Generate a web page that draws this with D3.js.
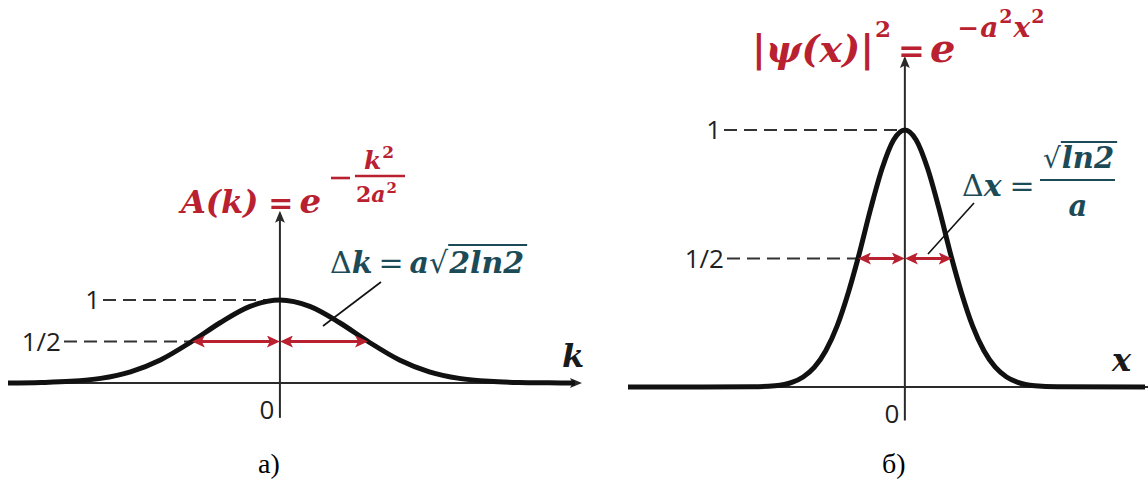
<!DOCTYPE html>
<html>
<head>
<meta charset="utf-8">
<script src="https://cdn.jsdelivr.net/npm/d3@7"></script>
<style>
  body { margin: 0; background: #ffffff; }
  svg { display: block; }
</style>
</head>
<body>
<svg id="chart" width="1148" height="488"></svg>
<script>
// ---- data (a = 1) ----
// spectral amplitude A(k), sampled along k
const kPoints = [-3.64, -3.2, -2.8, -2.4, -2.0, -1.6, -1.18, -0.8, -0.4, 0, 0.4, 0.8, 1.18, 1.6, 2.0, 2.4, 2.8, 3.2, 3.6, 3.95];
const aValues = [0, 0.006, 0.02, 0.056, 0.135, 0.278, 0.5, 0.726, 0.923, 1, 0.923, 0.726, 0.5, 0.278, 0.135, 0.056, 0.02, 0.006, 0.002, 0];
// probability density |psi(x)|^2, sampled along x
const xPoints = [-4.9, -2.7, -2.3, -2.0, -1.8, -1.6, -1.4, -1.2, -1.0, -0.83, -0.6, -0.4, -0.2, 0, 0.2, 0.4, 0.6, 0.83, 1.0, 1.2, 1.4, 1.6, 1.8, 2.0, 2.3, 2.7, 4.25];
const psiValues = [0, 0.001, 0.005, 0.018, 0.039, 0.077, 0.141, 0.237, 0.368, 0.5, 0.698, 0.852, 0.961, 1, 0.961, 0.852, 0.698, 0.5, 0.368, 0.237, 0.141, 0.077, 0.039, 0.018, 0.005, 0.001, 0];
// reference levels on the vertical axes
const levelValues = [1, 0.5];
const levelLabels = ["1", "1/2"];
// half widths at the 1/2 level
const halfWidthK = 1.18;   // a*sqrt(2 ln2)
const halfWidthX = 0.83;   // sqrt(ln2)/a
const panelCaptions = ["а)", "б)"];

const RED = "#ba2130";
const TEAL = "#1c4b57";
const INK = "#111111";
const AXIS = "#2a2a2a";
const MATH = "'DejaVu Serif', 'Liberation Serif', serif";
const SANS = "'Open Sans', 'Liberation Sans', sans-serif";

const svg = d3.select("#chart");
svg.append("rect").attr("width", 1148).attr("height", 488).attr("fill", "#fff");

const defs = svg.append("defs");
defs.append("marker")
  .attr("id", "axisHead").attr("viewBox", "0 0 12 10")
  .attr("refX", 10).attr("refY", 5)
  .attr("markerWidth", 12).attr("markerHeight", 10)
  .attr("markerUnits", "userSpaceOnUse").attr("orient", "auto")
  .append("path").attr("d", "M0,0 L12,5 L0,10 L2.5,5 Z").attr("fill", AXIS);
defs.append("marker")
  .attr("id", "redHead").attr("viewBox", "0 0 13 12")
  .attr("refX", 8).attr("refY", 6)
  .attr("markerWidth", 13).attr("markerHeight", 12)
  .attr("markerUnits", "userSpaceOnUse").attr("orient", "auto-start-reverse")
  .append("path").attr("d", "M0,0 L13,6 L0,12 L3,6 Z").attr("fill", RED);

// ---- one panel: axes, dashed levels, curve, half-width arrows ----
function drawPanel(cfg) {
  const g = svg.append("g");
  const xs = cfg.x, ys = cfg.y;
  const x0 = xs(0), y0 = ys(0);

  // horizontal axis
  g.append("line")
    .attr("x1", cfg.axisLeft).attr("x2", cfg.axisRight)
    .attr("y1", y0).attr("y2", y0)
    .attr("stroke", AXIS).attr("stroke-width", 2)
    .attr("marker-end", cfg.hArrow ? "url(#axisHead)" : null);
  // vertical axis
  g.append("line")
    .attr("x1", x0).attr("x2", x0)
    .attr("y1", ys(cfg.vBottom)).attr("y2", ys(cfg.vTop))
    .attr("stroke", AXIS).attr("stroke-width", 2)
    .attr("marker-end", "url(#axisHead)");

  // dashed guide lines and their labels
  levelValues.forEach((v, i) => {
    const endX = v === 1 ? x0 : xs(-cfg.half);
    g.append("line")
      .attr("x1", cfg.levelStart[i]).attr("x2", endX)
      .attr("y1", ys(v)).attr("y2", ys(v))
      .attr("stroke", "#333").attr("stroke-width", 1.8)
      .attr("stroke-dasharray", "13,7");
    g.append("text")
      .attr("x", cfg.levelStart[i] - 3).attr("y", ys(v))
      .attr("dy", "0.36em").attr("text-anchor", "end")
      .attr("font-family", SANS).attr("font-size", 26).attr("fill", "#1e1e1e")
      .text(levelLabels[i]);
  });

  // origin label
  g.append("text")
    .attr("x", x0 - 13).attr("y", y0 + 36)
    .attr("text-anchor", "middle")
    .attr("font-family", SANS).attr("font-size", 26).attr("fill", "#1e1e1e")
    .text("0");

  // the curve
  const line = d3.line()
    .x(d => xs(d[0])).y(d => ys(d[1]))
    .curve(d3.curveMonotoneX);
  g.append("path")
    .datum(d3.zip(cfg.xVals, cfg.yVals))
    .attr("d", line)
    .attr("fill", "none").attr("stroke", INK)
    .attr("stroke-width", 5).attr("stroke-linejoin", "round");

  // half-width arrows at the 1/2 level
  const yh = ys(0.5);
  [[-cfg.half, 0], [0, cfg.half]].forEach(([a, b]) => {
    g.append("line")
      .attr("x1", xs(a) + 5).attr("x2", xs(b) - 5)
      .attr("y1", yh).attr("y2", yh)
      .attr("stroke", RED).attr("stroke-width", 3)
      .attr("marker-start", "url(#redHead)")
      .attr("marker-end", "url(#redHead)");
  });

  // axis name
  g.append("text")
    .attr("x", cfg.axisNameX).attr("y", y0 - 16)
    .attr("font-family", MATH).attr("font-style", "italic").attr("font-weight", "bold")
    .attr("font-size", 32).attr("fill", "#1a1a1a")
    .text(cfg.axisName);

  // leader from the arrow to the width formula
  g.append("line")
    .attr("x1", cfg.leader[0]).attr("y1", cfg.leader[1])
    .attr("x2", cfg.leader[2]).attr("y2", cfg.leader[3])
    .attr("stroke", "#111").attr("stroke-width", 1.6);

  // caption
  g.append("text")
    .attr("x", x0 - 11).attr("y", 473)
    .attr("text-anchor", "middle")
    .attr("font-family", "'Liberation Serif', 'Times New Roman', serif")
    .attr("font-size", 28).attr("fill", "#000")
    .text(cfg.caption);
  return g;
}

// left panel: A(k)
const kScale = d3.scaleLinear().domain([-3.64, 3.95]).range([8, 575]);
const aScale = d3.scaleLinear().domain([0, 1]).range([383, 300]);
drawPanel({
  x: kScale, y: aScale, xVals: kPoints, yVals: aValues, half: halfWidthK,
  axisLeft: 8, axisRight: 580, hArrow: true, vBottom: -0.42, vTop: 2.05,
  levelStart: [103, 64], axisName: "k", axisNameX: 562,
  leader: [323, 326, 381, 282], caption: panelCaptions[0]
});

// right panel: |psi(x)|^2
const xScale = d3.scaleLinear().domain([-4.9, 4.25]).range([628, 1145]);
const pScale = d3.scaleLinear().domain([0, 1]).range([387, 130]);
drawPanel({
  x: xScale, y: pScale, xVals: xPoints, yVals: psiValues, half: halfWidthX,
  axisLeft: 628, axisRight: 1148, hArrow: false, vBottom: -0.13, vTop: 1.28,
  levelStart: [724, 727], axisName: "x", axisNameX: 1112,
  leader: [928, 254, 974, 203], caption: panelCaptions[1]
});

// ---- formulas: pieces laid out left to right by measured width ----
// style: "i" bold italic, "b" bold upright, "r" regular
function row(x, y, color, parts) {
  let cx = x;
  const spans = [];
  parts.forEach(p => {
    cx += p.gap || 0;
    const t = svg.append("text")
      .attr("x", cx).attr("y", y + (p.dy || 0))
      .attr("font-family", MATH).attr("font-size", p.size).attr("fill", color)
      .text(p.s);
    if (p.st === "i") t.attr("font-style", "italic").attr("font-weight", "bold");
    if (p.st === "b") t.attr("font-weight", "bold");
    const w = t.node().getComputedTextLength();
    spans.push({ x: cx, w: w });
    cx += w;
  });
  return spans;
}
function bar(x1, x2, y, color, w) {
  svg.append("line").attr("x1", x1).attr("x2", x2).attr("y1", y).attr("y2", y)
    .attr("stroke", color).attr("stroke-width", w);
}

// A(k) = e^{-k^2/(2a^2)}
row(181, 213, RED, [
  { s: "A(k)", st: "i", size: 32 },
  { s: "=", st: "b", size: 30, gap: 10 },
  { s: "e", st: "i", size: 34, gap: 6 }
]);
bar(331, 350, 178, RED, 2.6);
bar(355, 405, 176, RED, 2.6);
row(364, 169, RED, [
  { s: "k", st: "i", size: 25 },
  { s: "2", st: "b", size: 17, dy: -11, gap: 1 }
]);
row(356, 202, RED, [
  { s: "2", st: "b", size: 22 },
  { s: "a", st: "i", size: 22 },
  { s: "2", st: "b", size: 15, dy: -9, gap: 1 }
]);

// |psi(x)|^2 = e^{-a^2 x^2}
row(752, 62, RED, [
  { s: "|ψ(x)|", st: "i", size: 38 },
  { s: "2", st: "b", size: 23, dy: -25, gap: 1 },
  { s: "=", st: "b", size: 32, gap: 7 },
  { s: "e", st: "i", size: 40, gap: 5 },
  { s: "−", st: "b", size: 26, dy: -25, gap: 2 },
  { s: "a", st: "i", size: 28, dy: -25, gap: 1 },
  { s: "2", st: "b", size: 19, dy: -39, gap: 1 },
  { s: "x", st: "i", size: 28, dy: -25, gap: 1 },
  { s: "2", st: "b", size: 19, dy: -39, gap: 1 }
]);

// Δk = a√(2ln2)
const dk = row(330, 273, TEAL, [
  { s: "Δ", st: "r", size: 30 },
  { s: "k", st: "i", size: 30 },
  { s: "=", st: "r", size: 30, gap: 6 },
  { s: "a", st: "i", size: 30, gap: 6 },
  { s: "√", st: "r", size: 30 },
  { s: "2ln2", st: "i", size: 30, gap: 1 }
]);
bar(dk[5].x - 1, dk[5].x + dk[5].w + 3, 245, TEAL, 2.2);

// Δx = √(ln2)/a
row(962, 196, TEAL, [
  { s: "Δ", st: "r", size: 30 },
  { s: "x", st: "i", size: 30 },
  { s: "=", st: "r", size: 30, gap: 8 }
]);
bar(1040, 1115, 180, TEAL, 2.2);
const dx = row(1043, 168, TEAL, [
  { s: "√", st: "r", size: 28 },
  { s: "ln2", st: "i", size: 29, gap: 1 }
]);
bar(dx[1].x - 1, dx[1].x + dx[1].w + 3, 142, TEAL, 2);
svg.append("text").attr("x", 1078).attr("y", 216).attr("text-anchor", "middle")
  .attr("font-family", MATH).attr("font-style", "italic").attr("font-weight", "bold")
  .attr("font-size", 29).attr("fill", TEAL).text("a");
</script>
</body>
</html>
